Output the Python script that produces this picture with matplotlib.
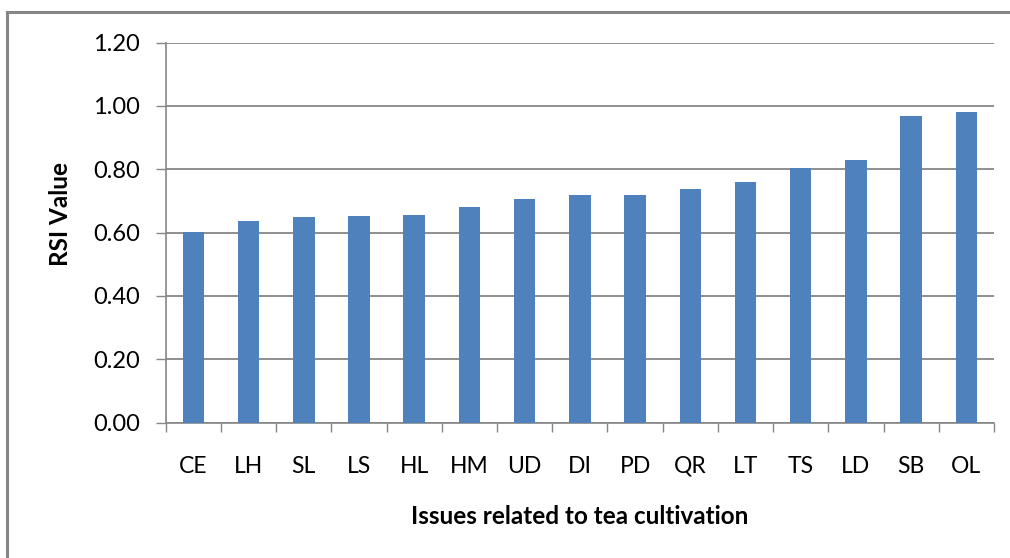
import numpy as np
import matplotlib
matplotlib.use("Agg")
import matplotlib.pyplot as plt
from matplotlib.lines import Line2D

issues = ["CE", "LH", "SL", "LS", "HL", "HM", "UD", "DI", "PD", "QR",
          "LT", "TS", "LD", "SB", "OL"]
rsi_values = [0.602, 0.636, 0.649, 0.652, 0.655, 0.680, 0.705, 0.718,
              0.718, 0.736, 0.761, 0.805, 0.830, 0.969, 0.982]
y_ticks = [0.0, 0.2, 0.4, 0.6, 0.8, 1.0, 1.2]

plt.rcParams['font.family'] = ['Lato', 'DejaVu Sans']
grey = "#868686"
bar_color = "#4f81bd"

W, H = 1010, 558
left, right, top, bottom = 165.7, 994, 42.5, 422.5

fig = plt.figure(figsize=(W / 100, H / 100), dpi=100)
ax = fig.add_axes([left / W, 1 - bottom / H, (right - left) / W, (bottom - top) / H])

x = np.arange(len(issues))
ax.bar(x, rsi_values, width=0.39, color=bar_color, zorder=3)

ax.set_xlim(-0.5, len(issues) - 0.5)
ax.set_ylim(0, 1.2)
ax.set_yticks(y_ticks)
ax.set_yticklabels([f"{v:.2f}" for v in y_ticks], fontsize=17)
ax.yaxis.grid(True, color=grey, linewidth=1.3, zorder=0)

# category labels centred, tick marks on boundaries
ax.set_xticks(x)
ax.set_xticklabels(issues, fontsize=16.5)
ax.tick_params(axis="x", length=0, pad=24)
ax.set_xticks(np.arange(-0.5, len(issues)), minor=True)
ax.tick_params(axis="x", which="minor", length=6.5, color=grey, width=1)
ax.tick_params(axis="y", length=7.2, color=grey, width=1, pad=11.5)

for side in ["top", "right"]:
    ax.spines[side].set_visible(False)
for side in ["left", "bottom"]:
    ax.spines[side].set_color(grey)
    ax.spines[side].set_linewidth(1.2)

ax.set_xlabel("Issues related to tea cultivation", fontsize=17.5,
              fontweight="bold", va="center")
ax.xaxis.set_label_coords(0.5, (bottom - 517) / (bottom - top))
ax.set_ylabel("RSI Value", fontsize=17.5, fontweight="bold", va="center")
ax.yaxis.set_label_coords((60 - left) / (right - left), (bottom - 214) / (bottom - top))

# outer chart frame (only top and left edges visible)
fig.add_artist(Line2D([7 / W, 1.0], [1 - 12 / H, 1 - 12 / H],
                      color=grey, linewidth=2.2))
fig.add_artist(Line2D([7 / W, 7 / W], [0.0, 1 - 12 / H],
                      color=grey, linewidth=2.2))

fig.savefig("out.png", dpi=100)
